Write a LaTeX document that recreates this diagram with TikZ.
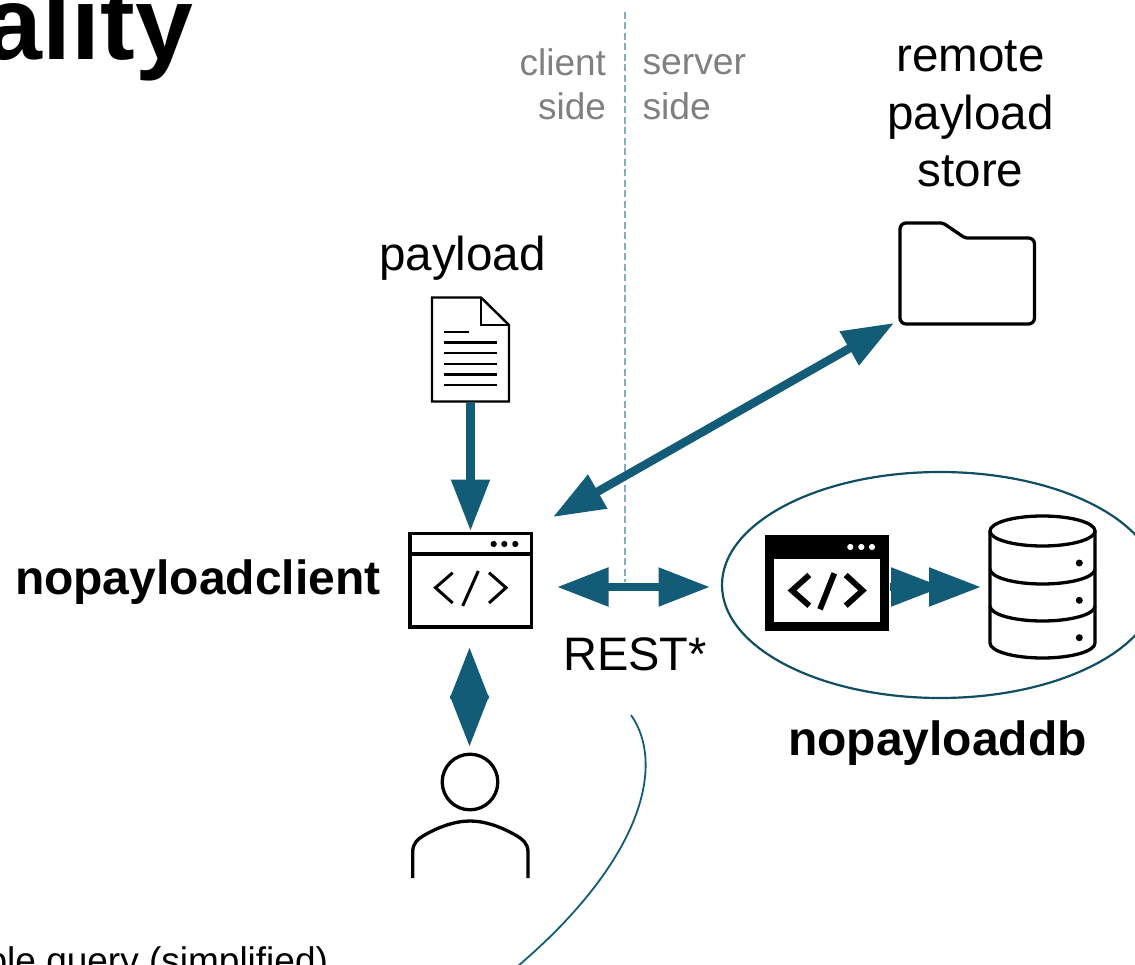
\documentclass[tikz,border=0pt]{standalone}
\usepackage{fontspec}
\setmainfont{Liberation Sans}
\usetikzlibrary{arrows.meta}
\definecolor{teal1}{HTML}{125C78}
\definecolor{teal2}{HTML}{104E63}
\definecolor{dashc}{HTML}{85AEBD}
\definecolor{greyt}{HTML}{808080}
\tikzset{
  x=1pt,y=-1pt,
  lbl/.style={inner sep=0pt,outer sep=0pt,align=center},
  conn/.style={line width=8.4pt,teal1},
  ink/.style={line width=3.3pt,black},
  thinink/.style={line width=2.4pt,black},
}
\newcommand{\fs}[1]{\fontsize{#1}{#1}\selectfont}
\def\headA{Triangle[length=51.5pt,width=37pt]}
\begin{document}
\begin{tikzpicture}
\useasboundingbox (0,0) rectangle (1135,965);
\clip (0,0) rectangle (1135,965);

% dashed separator
\draw[dashc,line width=1.8pt,dash pattern=on 7pt off 3.5pt] (625,12) coordinate (sepT) -- (625,582) coordinate (sepB);

% titles and labels
\node[lbl,anchor=base east,font=\fs{104}\bfseries] (title) at (193,59.5) {ality};
\node[lbl,anchor=base east,font=\fs{37}] (query) at (328,973) {Example query (simplified)};
\node[lbl,anchor=base east,font=\fs{37},text=greyt] (cl1) at (606,76) {client};
\node[lbl,anchor=base east,font=\fs{37},text=greyt] (cl2) at (606,120) {side};
\node[lbl,anchor=base west,font=\fs{37.3},text=greyt] (sv1) at (642.5,75) {server};
\node[lbl,anchor=base west,font=\fs{37.3},text=greyt] (sv2) at (642.5,120) {side};
\node[lbl,anchor=base,font=\fs{47.6}] (rem1) at (970.5,72) {remote};
\node[lbl,anchor=base,font=\fs{47.6}] (rem2) at (970.5,130) {payload};
\node[lbl,anchor=base,font=\fs{47.6}] (rem3) at (970.5,187) {store};
\node[lbl,anchor=base,font=\fs{47.6}] (pl) at (462.5,271) {payload};
\node[lbl,anchor=base west,font=\fs{48}\bfseries] (npc) at (15,594) {nopayloadclient};
\node[lbl,anchor=base,font=\fs{47}] (rest) at (635,670) {REST*};
\node[lbl,anchor=base,font=\fs{48}\bfseries] (npd) at (937.5,755) {nopayloaddb};

% ellipse around nopayloaddb
\draw[teal2,line width=2.2pt] (940,585) ellipse [x radius=218,y radius=113];

% curved callout
\draw[teal1,line width=1.8pt] (631,715) .. controls (666,765) and (642,860) .. (518,966) coordinate (curveEnd);

% document icon
\node[inner sep=0pt,minimum width=77pt,minimum height=105pt] (doc) at (470.5,349.5) {};
\draw[thinink,line join=miter,fill=white] (432,297.5) -- (481,297.5) -- (509,325) -- (509,401.5) -- (432,401.5) -- cycle;
\draw[thinink,line join=miter] (481,297.5) -- (481,325) -- (509,325);
\draw[thinink] (444,332) -- (469,332);
\foreach \yy in {342.7,353.3,364,374.7,385}{\draw[thinink] (444,\yy) -- (497,\yy);}

% client window icon
\node[inner sep=0pt,minimum width=123pt,minimum height=95pt] (win) at (470.5,580) {};
\draw[ink] (410,533.5) rectangle (531.5,627);
\draw[ink] (410,554) -- (531.5,554);
\foreach \xx in {493.7,504.3,515.3}{\fill (\xx,544) circle (3.1);}
\draw[line width=3pt] (452.7,572.7) -- (435.5,587.7) -- (452.7,603);
\draw[line width=3pt] (478.3,571) -- (462.7,606);
\draw[line width=3pt] (489,572.7) -- (506,587.7) -- (489,603);

% server window icon
\node[inner sep=0pt,minimum width=124pt,minimum height=96pt,fill=black] (swin) at (827,583) {};
\fill[white] (773.7,559.3) rectangle (880,622);
\foreach \xx in {850.3,861.3,872}{\fill[white] (\xx,547) circle (3.1);}
\draw[line width=5.8pt] (809.3,575) -- (792,590.5) -- (809.3,605.7);
\draw[line width=5.8pt] (834.3,573.3) -- (820,609.3);
\draw[line width=5.8pt] (845.7,575) -- (862.5,590.5) -- (845.7,605.7);

% database icon
\node[inner sep=0pt,minimum width=106pt,minimum height=144pt] (db) at (1042.5,587.5) {};
\draw[ink] (1042.5,531) ellipse [x radius=52.5,y radius=15];
\draw[ink] (990,531) -- (990,643) arc[start angle=180,end angle=0,x radius=52.5,y radius=15] -- (1095,531);
\draw[ink] (990,569) arc[start angle=180,end angle=0,x radius=52.5,y radius=15];
\draw[ink] (990,606) arc[start angle=180,end angle=0,x radius=52.5,y radius=15];
\foreach \yy in {563,600.3,637.7}{\fill (1079.3,\yy) circle (3.5);}

% user icon
\node[inner sep=0pt,minimum width=118pt,minimum height=126pt] (user) at (470,815) {};
\draw[ink] (470,782) circle (27.8);
\draw[ink,line cap=butt] (412.7,878) -- (412.7,852) .. controls (412.7,843) and (418,839) .. (423,836) .. controls (438,827) and (455,821) .. (470,821) .. controls (485,821) and (502,827) .. (517,836) .. controls (522,839) and (528,843) .. (528,852) -- (528,878);

% folder icon
\node[inner sep=0pt,minimum width=137pt,minimum height=103pt] (folder) at (967.5,273.5) {};
\draw[ink,rounded corners=6pt] (900,240) -- (900,223) [rounded corners=2pt] -- (943,223) -- (965,238) [rounded corners=6pt] -- (1034.5,238) -- (1034.5,324) -- (900,324) -- cycle;

% free ends of connectors
\coordinate (a1) at (470.5,402);
\coordinate (a2) at (470.5,531);
\coordinate (b1) at (553,517);
\coordinate (b2) at (894,323);
\coordinate (c1) at (557,587);
\coordinate (c2) at (710,587);
\coordinate (d1) at (469.5,647);
\coordinate (d2) at (469.5,747);
\coordinate (e1) at (889.5,587);
\coordinate (e2) at (981,587);

% connectors
\draw[conn,-{\headA}] (a1) -- (a2);
\draw[conn,{\headA}-{\headA}] (b1) -- (b2);
\draw[conn,{\headA}-{\headA}] (c1) -- (c2);
\draw[conn,{\headA}-{\headA}] (d1) -- (d2);
\draw[teal1,line width=8.4pt,-{Triangle[length=52pt,width=37pt,sep=-14pt]Triangle[length=52pt,width=37pt]},shorten <=0pt] (e1) -- (e2);
\end{tikzpicture}
\end{document}
